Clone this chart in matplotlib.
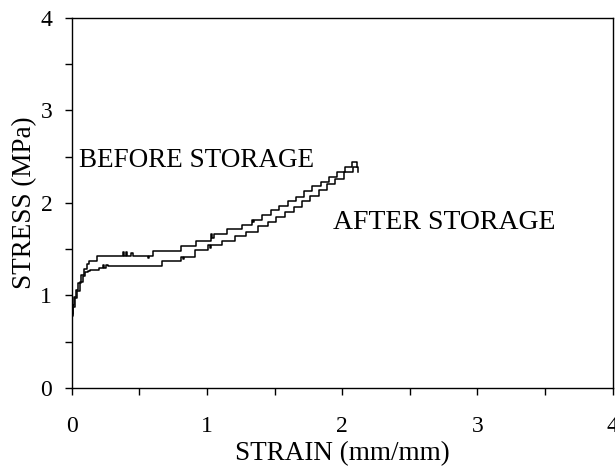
import matplotlib.pyplot as plt
from matplotlib.ticker import MultipleLocator

# Stress-strain records (step points), before and after storage
strain_before = [0.000, 0.003, 0.010, 0.020, 0.035, 0.050, 0.070, 0.090, 0.110, 0.130,
                 0.185, 0.380, 0.390, 0.400, 0.410, 0.440, 0.455, 0.470, 0.565, 0.575,
                 0.600, 0.810, 0.920, 1.030, 1.040, 1.050, 1.146, 1.257, 1.330, 1.340,
                 1.350, 1.405, 1.470, 1.535, 1.600, 1.660, 1.720, 1.780, 1.840, 1.900,
                 1.960, 2.020, 2.070, 2.105, 2.106]
stress_before = [0.00, 0.80, 0.90, 0.98, 1.06, 1.13, 1.22, 1.29, 1.34, 1.37,
                 1.43, 1.47, 1.43, 1.47, 1.43, 1.46, 1.43, 1.43, 1.40, 1.43,
                 1.48, 1.53, 1.59, 1.66, 1.62, 1.67, 1.715, 1.76, 1.82, 1.79,
                 1.82, 1.87, 1.92, 1.97, 2.02, 2.07, 2.13, 2.18, 2.23, 2.28,
                 2.34, 2.39, 2.44, 2.44, 2.39]

strain_after = [0.000, 0.004, 0.012, 0.025, 0.040, 0.060, 0.080, 0.100, 0.120, 0.135,
                0.200, 0.230, 0.240, 0.255, 0.265, 0.665, 0.810, 0.820, 0.830, 0.910,
                1.010, 1.020, 1.030, 1.110, 1.210, 1.290, 1.380, 1.450, 1.510, 1.575,
                1.640, 1.700, 1.765, 1.830, 1.890, 1.950, 2.015, 2.080, 2.115, 2.116]
stress_after = [0.00, 0.78, 0.88, 0.97, 1.05, 1.15, 1.21, 1.25, 1.27, 1.28,
                1.30, 1.33, 1.30, 1.33, 1.32, 1.37, 1.42, 1.39, 1.42, 1.49,
                1.546, 1.51, 1.546, 1.59, 1.64, 1.69, 1.75, 1.79, 1.85, 1.90,
                1.96, 2.02, 2.08, 2.14, 2.20, 2.26, 2.33, 2.39, 2.39, 2.34]

plt.rcParams['font.family'] = ['Liberation Serif', 'DejaVu Serif']

fig = plt.figure(figsize=(6.15, 4.67), dpi=100)
ax = fig.add_axes([0.1166, 0.1692, 0.8797, 0.7923])

ax.plot(strain_before, stress_before, drawstyle='steps-post', color='black', lw=1.1)
ax.plot(strain_after, stress_after, drawstyle='steps-post', color='black', lw=1.1)

ax.text(0.055, 2.46, 'BEFORE STORAGE', fontsize=19.5, va='center', ha='left')
ax.text(1.93, 1.79, 'AFTER STORAGE', fontsize=20, va='center', ha='left')

ax.set_xlim(0, 4)
ax.set_ylim(0, 4)
ax.xaxis.set_major_locator(MultipleLocator(1))
ax.yaxis.set_major_locator(MultipleLocator(1))
ax.xaxis.set_minor_locator(MultipleLocator(0.5))
ax.yaxis.set_minor_locator(MultipleLocator(0.5))
ax.tick_params(which='both', direction='out', length=5, width=1.0,
               top=False, right=False)
ax.tick_params(axis='x', labelsize=17, pad=15)
ax.tick_params(axis='y', labelsize=17, pad=9)

ax.set_xlabel('STRAIN (mm/mm)', fontsize=19.5, labelpad=3)
ax.set_ylabel('STRESS (MPa)', fontsize=19.5, labelpad=2)

for s in ax.spines.values():
    s.set_linewidth(1.0)

fig.savefig('out.png', dpi=100)
